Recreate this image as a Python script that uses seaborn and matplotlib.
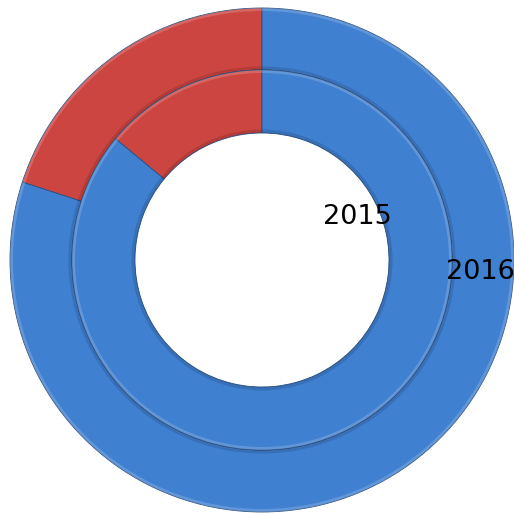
import matplotlib
matplotlib.use('Agg')
import matplotlib.pyplot as plt
import seaborn as sns

sns.set_style('white')
plt.rcParams['font.family'] = ['DejaVu Sans']

# data: share of each segment per year
segments = ['B', 'A']
values_2015 = [14, 86]
values_2016 = [20, 80]
years = ['2015', '2016']
colors = ['#cc4541', '#3f80d0']

fig = plt.figure(figsize=(5.14, 5.14), dpi=100)
ax = fig.add_axes([0, 0, 1, 1])

wedge_kw = dict(edgecolor='#2b4f80', linewidth=0.6)
ax.pie(values_2016, radius=1.0, colors=colors, startangle=90, counterclock=True,
       wedgeprops=dict(width=0.246, **wedge_kw))
ax.pie(values_2015, radius=0.754, colors=colors, startangle=90, counterclock=True,
       wedgeprops=dict(width=0.25, **wedge_kw))

# soft bevel: light rim on outside, darker shade on inside of each ring
for r_out, w in [(1.0, 0.246), (0.754, 0.25)]:
    ax.pie([1], radius=r_out, colors=['white'], startangle=90,
           wedgeprops=dict(width=0.012, alpha=0.18, linewidth=0))
    ax.pie([1], radius=r_out - w + 0.014, colors=['black'], startangle=90,
           wedgeprops=dict(width=0.014, alpha=0.12, linewidth=0))

ax.text(0.696, 0.578, years[0], transform=ax.transAxes, ha='center', va='center',
        fontsize=19.5, color='black')
ax.text(0.934, 0.471, years[1], transform=ax.transAxes, ha='center', va='center',
        fontsize=19.5, color='black')

ax.set_xlim(-262 / 252, 252 / 252)
ax.set_ylim(-254 / 252, 260 / 252)
ax.set_aspect('equal')
ax.axis('off')

fig.savefig('out.png', dpi=100, facecolor='white')
